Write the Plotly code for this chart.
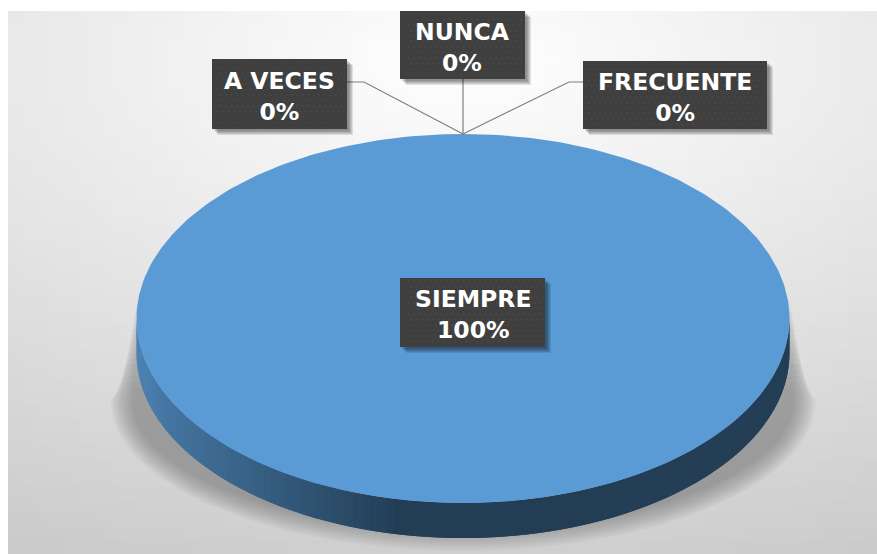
"""Pastel 3D de frecuencias (SIEMPRE / FRECUENTE / A VECES / NUNCA) con Plotly."""
import numpy as np
import plotly.graph_objects as go

# Datos
CATEGORIES = ["SIEMPRE", "FRECUENTE", "A VECES", "NUNCA"]
VALUES = [100, 0, 0, 0]

# Geometría en píxeles de la ventana
W, H = 877, 554
CX, CY = 463, 318.5
RX, RY = 326.5, 184.5
DEPTH = 35 / RY
FONT = "DejaVu Sans"

# Una unidad del eje equivale al radio: la escala del eje aplana el círculo
X_RANGE = [-CX / RX, (W - CX) / RX]
Y_RANGE = [(H - CY) / RY, -CY / RY]


def ux(px):
    return (np.asarray(px, dtype=float) - CX) / RX


def uy(px):
    return (np.asarray(px, dtype=float) - CY) / RY


def poly(fig, xs, ys, color):
    fig.add_trace(go.Scatter(x=xs, y=ys, mode="lines", fill="toself", fillcolor=color,
                             line=dict(width=0), hoverinfo="skip", showlegend=False))


def rect(fig, x0, y0, x1, y1, color):
    poly(fig, ux([x0, x1, x1, x0, x0]), uy([y0, y0, y1, y1, y0]), color)


fig = go.Figure()

# Fondo: degradado radial blanco -> gris (x, y son bordes de celda)
ex = np.linspace(8, W, 61)
ey = np.linspace(11, H, 41)
mx, my = np.meshgrid((ex[:-1] + ex[1:]) / 2, (ey[:-1] + ey[1:]) / 2)
dist = np.sqrt(((mx - 463) / 950) ** 2 + ((my - 60) / 480) ** 2)
shade = 255 - 47 * np.clip(dist, 0, 1.1)
fig.add_trace(go.Heatmap(x=ux(ex), y=uy(ey), z=shade, zmin=0, zmax=255,
                         colorscale=[[0, "rgb(0,0,0)"], [1, "rgb(255,255,255)"]],
                         showscale=False, hoverinfo="skip"))

# Sombra difusa bajo el pastel: capas cada vez más estrechas
half = np.linspace(np.pi, 0, 90)
LAYERS = 16
for k in range(LAYERS):
    f = k / (LAYERS - 1)
    grow = 6 - f * 22
    sx = np.cos(half) * (347 + grow)
    sy = np.sin(half) * (145 + grow)
    # el borde recto de la cuña nace en el canto del pastel y baja hacia fuera
    t = 0.75 * (1 - f)
    top = 300 + 117 * t
    spread = 20 * t
    xs = np.concatenate([[-326 - spread], sx, [327 + spread]]) + CX
    ys = np.concatenate([[top], sy + 400, [top]])
    poly(fig, ux(xs), uy(ys), "rgba(110,110,110,0.04)")

# Pared lateral: tiras verticales con degradado
edge = np.linspace(np.pi, 0, 121)
wall_x = np.cos(edge)
wall_y = np.sin(edge)
for i in range(len(edge) - 1):
    t = (wall_x[i] + wall_x[i + 1]) / 2
    px = CX + t * RX
    r = np.interp(px, [137, 170, 280, 400, 800], [76, 68, 51, 35, 35])
    g = np.interp(px, [137, 170, 280, 400, 800], [131, 116, 90, 61, 62])
    b = np.interp(px, [137, 170, 280, 400, 800], [180, 159, 124, 85, 85])
    j = min(i + 2, len(edge) - 1)
    xs = [wall_x[i], wall_x[j], wall_x[j], wall_x[i], wall_x[i]]
    ys = [wall_y[i], wall_y[j], wall_y[j] + DEPTH, wall_y[i] + DEPTH, wall_y[i]]
    poly(fig, xs, ys, f"rgb({r:.0f},{g:.0f},{b:.0f})")

# Porciones, a partir de los valores acumulados (empiezan a las 12 en punto)
shares = np.array(VALUES) / sum(VALUES)
starts = np.concatenate([[0], np.cumsum(shares)[:-1]])
mids = starts + shares / 2
for share, start in zip(shares, starts):
    if share == 0:
        continue
    ang = 2 * np.pi * np.linspace(start, start + share, 361)
    poly(fig, np.sin(ang), -np.cos(ang), "#5b9bd5")

# Cajas de etiqueta: (x0, y0, x1, y1) y codo de la línea guía
BOXES = {
    "SIEMPRE": (400, 278, 545, 347, None),
    "FRECUENTE": (583, 61, 767, 129, (569, 82, 583)),
    "A VECES": (212, 59, 347, 129, (364, 82, 347)),
    "NUNCA": (400, 11, 525, 79, (463, 79, 463)),
}

for name, share, mid in zip(CATEGORIES, shares, mids):
    x0, y0, x1, y1, elbow = BOXES[name]
    if elbow:
        tip = 2 * np.pi * mid
        xs = [float(ux(elbow[2])), float(ux(elbow[0])), np.sin(tip)]
        ys = [float(uy(elbow[1])), float(uy(elbow[1])), -np.cos(tip)]
        fig.add_trace(go.Scatter(x=xs, y=ys, mode="lines", hoverinfo="skip", showlegend=False,
                                 line=dict(color="#7f7f7f", width=1.2)))
    for off in (6, 5, 4, 3, 2):
        rect(fig, x0 + off, y0 + off, x1 + off, y1 + off, "rgba(0,0,0,0.1)")
    rect(fig, x0, y0, x1, y1, "#3f3f3f")
    # Textura punteada de la caja
    dx, dy = np.meshgrid(np.arange(x0 + 3, x1 - 1, 5.5), np.arange(y0 + 3, y1 - 1, 5.5))
    dx = dx + (np.arange(dx.shape[0])[:, None] % 2) * 2.7
    fig.add_trace(go.Scatter(x=ux(dx.ravel()), y=uy(dy.ravel()), mode="markers",
                             marker=dict(color="#4d4d4d", size=1.6), hoverinfo="skip",
                             showlegend=False))
    fig.add_annotation(x=float(ux((x0 + x1) / 2)), y=float(uy((y0 + y1) / 2)), yshift=-2,
                       text=f"<b>{name}</b><br><b>{share:.0%}</b>", showarrow=False,
                       font=dict(family=FONT, size=23.5, color="#ffffff"), align="center")

fig.update_layout(width=W, height=H, margin=dict(l=0, r=0, t=0, b=0),
                  paper_bgcolor="#ffffff", plot_bgcolor="#ffffff", showlegend=False)
fig.update_xaxes(range=X_RANGE, visible=False, fixedrange=True)
fig.update_yaxes(range=Y_RANGE, visible=False, fixedrange=True)

fig.write_html("out.html", config=dict(displayModeBar=False),
               post_script="document.body.style.margin='0';")
